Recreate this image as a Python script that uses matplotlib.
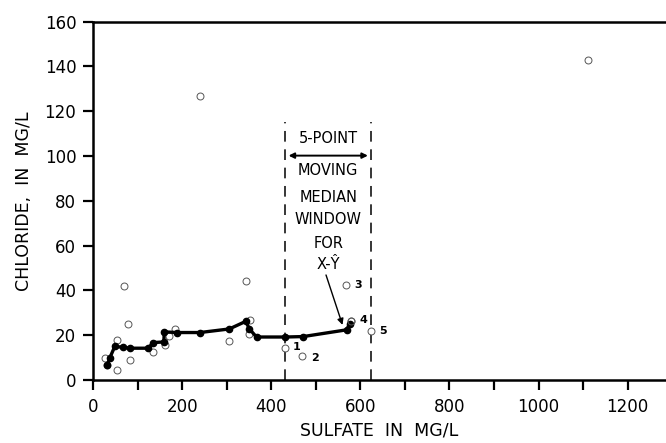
import matplotlib
matplotlib.use("Agg")
import matplotlib.pyplot as plt
from matplotlib.ticker import MultipleLocator

# Observed data (open circles)
sulfate_obs = [28, 32, 54, 55, 70, 79, 84, 134, 162, 171, 185, 241, 306, 343, 352, 351, 432, 470, 567, 580, 625, 1112]
chloride_obs = [10, 6.5, 4.5, 18, 42, 25, 9, 12.5, 15.6, 19.6, 23, 127, 17.5, 44, 27, 20.5, 14.5, 10.5, 42.5, 26.5, 22, 143]

# Moving-median smooth (filled nodes and line)
sulfate_med = [32, 38, 49, 68, 83, 124, 135, 159, 160, 188, 240, 306, 343, 351, 367, 432, 472, 569, 576]
chloride_med = [6.5, 10, 15, 14.6, 14.2, 14.2, 16.7, 17, 21.5, 21.2, 21.2, 22.8, 26.2, 22.8, 19.2, 19.2, 19.4, 22.4, 25]

# Window points labels
label_text = ["1", "2", "3", "4", "5"]
label_x = [457, 498, 595, 607, 650]
label_y = [14.6, 10, 42.4, 26.8, 22]

window_x = [431, 625]

fig = plt.figure(figsize=(6.66, 4.43), dpi=100)
ax = fig.add_axes([0.1396, 0.1422, 0.8604, 0.8088])
ax.set_xlim(0, 1286)
ax.set_ylim(0, 160)

ax.plot(sulfate_obs, chloride_obs, linestyle="none", marker="o", markersize=5,
        markerfacecolor="white", markeredgecolor="#555555", markeredgewidth=0.7, zorder=2)
ax.plot(sulfate_med, chloride_med, color="black", linewidth=2.4, marker="o",
        markersize=4.5, markerfacecolor="black", markeredgecolor="black", zorder=3)
ax.plot(sulfate_obs[19:20], chloride_obs[19:20], linestyle="none", marker="o", markersize=5,
        markerfacecolor="none", markeredgecolor="#555555", markeredgewidth=0.7, zorder=4)

for t, lx, ly in zip(label_text, label_x, label_y):
    ax.text(lx, ly, t, fontsize=8, fontweight="bold", ha="center", va="center")

for wx in window_x:
    ax.plot([wx, wx], [0, 115], color="black", linewidth=1.1, linestyle=(0, (7, 5)), zorder=1)

ax.annotate("", xy=(window_x[0] + 8, 100.2), xytext=(window_x[1] - 8, 100.2),
            arrowprops=dict(arrowstyle="<|-|>", color="black", lw=1.4, mutation_scale=8,
                            shrinkA=0, shrinkB=0))
cx = (window_x[0] + window_x[1]) / 2
for s, yy in [("5-POINT", 108), ("MOVING", 93.5), ("MEDIAN", 81.6), ("WINDOW", 71.5),
              ("FOR", 61), ("X-Ŷ", 51.4)]:
    ax.text(cx, yy, s, fontsize=10.5, ha="center", va="center")
ax.annotate("", xy=(560, 24.6), xytext=(523, 46.9),
            arrowprops=dict(arrowstyle="-|>", color="black", lw=1.0, mutation_scale=9,
                            shrinkA=0, shrinkB=0))

ax.spines["right"].set_visible(False)
for sp in ["left", "bottom", "top"]:
    ax.spines[sp].set_linewidth(1.8)

ax.xaxis.set_major_locator(MultipleLocator(200))
ax.xaxis.set_minor_locator(MultipleLocator(100))
ax.yaxis.set_major_locator(MultipleLocator(20))
ax.tick_params(axis="both", which="both", direction="out", width=1.6, length=7, labelsize=12, pad=6)
ax.tick_params(axis="x", which="minor", length=7)
ax.tick_params(axis="y", which="both", pad=5)

ax.set_xlabel("SULFATE  IN  MG/L", fontsize=12.5, labelpad=4)
ax.set_ylabel("CHLORIDE,  IN  MG/L", fontsize=12.5, labelpad=8)

fig.savefig("out.png", dpi=100)
